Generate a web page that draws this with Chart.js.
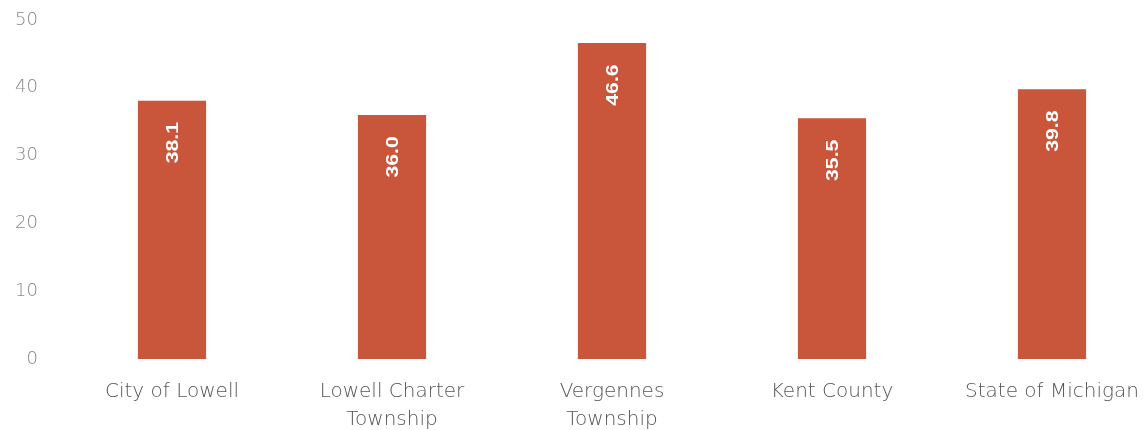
<!DOCTYPE html>
<html>
<head>
<meta charset="utf-8">
<script src="https://cdn.jsdelivr.net/npm/chart.js@4/dist/chart.umd.min.js"></script>
<style>
  html, body { margin: 0; padding: 0; background: #ffffff; overflow: hidden; }
  #wrap { width: 1170px; height: 430px; }
</style>
</head>
<body>
<div id="wrap"><canvas id="c" width="1170" height="430"></canvas></div>
<script>
const categories = [
  ["City of Lowell"],
  ["Lowell Charter", "Township"],
  ["Vergennes", "Township"],
  ["Kent County"],
  ["State of Michigan"]
];
const values = [38.1, 36.0, 46.6, 35.5, 39.8];
const valueLabels = ["38.1", "36.0", "46.6", "35.5", "39.8"];
const yTicks = [0, 10, 20, 30, 40, 50];

const barColor = "#C9563B";

const valueLabelPlugin = {
  id: "valueLabels",
  afterDatasetsDraw(chart) {
    const ctx = chart.ctx;
    const meta = chart.getDatasetMeta(0);
    ctx.save();
    ctx.fillStyle = "#ffffff";
    ctx.font = "bold 17px 'Liberation Sans', Arial, sans-serif";
    ctx.textAlign = "center";
    ctx.textBaseline = "middle";
    meta.data.forEach((bar, i) => {
      ctx.save();
      ctx.translate(bar.x, bar.y + 42);
      ctx.rotate(-Math.PI / 2);
      ctx.scale(1.25, 1);
      ctx.fillText(valueLabels[i], 0, 1);
      ctx.restore();
    });
    ctx.restore();
  }
};

new Chart(document.getElementById("c"), {
  type: "bar",
  data: {
    labels: categories,
    datasets: [{
      data: values,
      backgroundColor: barColor,
      borderWidth: 0,
      barPercentage: 0.31,
      categoryPercentage: 1.0
    }]
  },
  options: {
    responsive: false,
    animation: false,
    layout: { padding: { top: 20, right: 8, left: 0, bottom: 0 } },
    plugins: { legend: { display: false }, tooltip: { enabled: false } },
    scales: {
      x: {
        afterFit(scale) { scale.height = 71; scale.paddingLeft = 0; scale.paddingRight = 0; },
        grid: { display: false, drawTicks: false },
        border: { display: false },
        ticks: {
          color: "#555555",
          padding: 19,
          maxRotation: 0,
          autoSkip: false,
          font: { family: "'DejaVu Sans', sans-serif", size: 20, weight: 300, lineHeight: 1.4 }
        }
      },
      y: {
        min: 0,
        max: 50,
        afterFit(scale) { scale.width = 62; scale.paddingTop = 0; scale.paddingBottom = 0; },
        afterBuildTicks(scale) { scale.ticks = yTicks.map(v => ({ value: v })); },
        grid: { display: false, drawTicks: false },
        border: { display: false },
        ticks: {
          color: "#888888",
          padding: 24,
          font: { family: "'DejaVu Sans', sans-serif", size: 18, weight: 300 }
        }
      }
    }
  },
  plugins: [valueLabelPlugin]
});
</script>
</body>
</html>
